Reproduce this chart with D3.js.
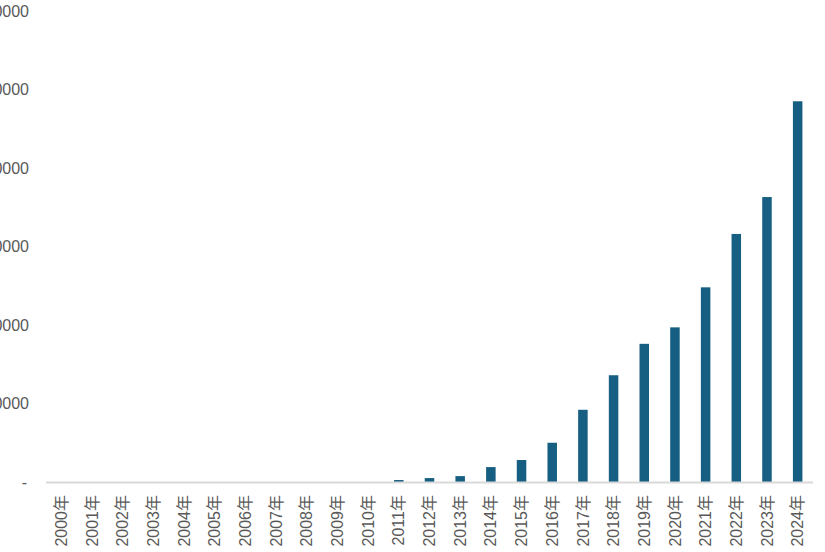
<!DOCTYPE html>
<html><head><meta charset="utf-8">
<script src="https://cdn.jsdelivr.net/npm/d3@7"></script>
<style>body{margin:0;background:#fff}svg{display:block}</style>
</head><body>
<svg id="c" width="825" height="552"></svg>
<script>
const categories = ["2000年","2001年","2002年","2003年","2004年","2005年","2006年","2007年","2008年","2009年","2010年","2011年","2012年","2013年","2014年","2015年","2016年","2017年","2018年","2019年","2020年","2021年","2022年","2023年","2024年"];
const values = [0,0,0,0,0,0,0,0,0,0,0,2500,5000,7500,19000,28000,50000,92000,136000,176000,197000,248000,316000,363000,485000];
const yTicks = [0,100000,200000,300000,400000,500000,600000];

const svg = d3.select("#c");
const x = d3.scaleBand().domain(categories).range([46, 813]).paddingInner(0.69).paddingOuter(0.345);
const y = d3.scaleLinear().domain([0, 600000]).range([482, 11]);

// y labels
svg.append("g").selectAll("text").data(yTicks).join("text")
  .attr("x", d => d === 0 ? 27 : 29)
  .attr("y", d => y(d))
  .attr("dy", "0.35em")
  .attr("text-anchor", "end")
  .attr("font-family", "Liberation Sans, Arial, sans-serif")
  .attr("font-size", 16)
  .attr("fill", "#595959")
  .text(d => d === 0 ? "-" : String(d));

// bars
svg.append("g").selectAll("rect").data(categories).join("rect")
  .attr("x", (d) => x(d))
  .attr("width", x.bandwidth())
  .attr("y", (d, i) => y(values[i]))
  .attr("height", (d, i) => y(0) - y(values[i]))
  .attr("fill", "#175F82");

// axis line
svg.append("line").attr("x1", 46).attr("x2", 813).attr("y1", 482.5).attr("y2", 482.5)
  .attr("stroke", "#d9d9d9").attr("stroke-width", 2);

// x labels
svg.append("g").selectAll("text").data(categories).join("text")
  .attr("transform", d => `translate(${x(d) + x.bandwidth()/2},495) rotate(-90)`)
  .attr("dy", "0.35em")
  .attr("text-anchor", "end")
  .attr("font-family", "Liberation Sans, Arial, 'Noto Sans CJK SC', sans-serif")
  .attr("font-size", 16)
  .attr("fill", "#595959")
  .text(d => d);
</script>
</body></html>
